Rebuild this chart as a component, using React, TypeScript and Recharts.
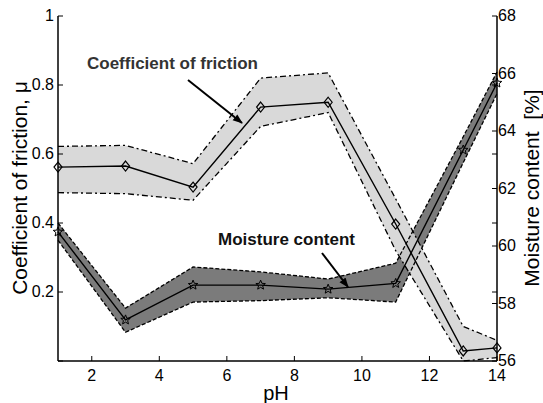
import { ComposedChart, Area, Line, XAxis, YAxis } from 'recharts'

// pH samples
const ph = [1, 3, 5, 7, 9, 11, 13, 14]

// coefficient of friction (left axis)
const friction = [0.562, 0.565, 0.504, 0.736, 0.75, 0.397, 0.029, 0.038]
const frictionUpper = [0.622, 0.625, 0.572, 0.82, 0.835, 0.47, 0.1, 0.06]
const frictionLower = [0.488, 0.485, 0.466, 0.68, 0.72, 0.32, 0.0, 0.01]

// moisture content in % (right axis)
const moisture = [60.49, 57.43, 58.64, 58.64, 58.5, 58.7, 63.34, 65.67]
const moistureUpper = [60.8, 57.84, 59.27, 59.1, 58.85, 59.4, 63.8, 66.05]
const moistureLower = [60.2, 57.0, 58.05, 58.1, 58.2, 58.05, 62.9, 65.3]

const xTicks = [2, 4, 6, 8, 10, 12, 14]
const leftTicks = [0, 0.2, 0.4, 0.6, 0.8, 1]
const rightTicks = [56, 58, 58.4, 60, 60.8, 62, 63.2, 64, 65.6, 66, 68]

const rows = ph.map((p, i) => ({
  ph: p,
  friction: friction[i],
  frictionUpper: frictionUpper[i],
  frictionLower: frictionLower[i],
  frictionBand: [frictionLower[i], frictionUpper[i]],
  moisture: moisture[i],
  moistureUpper: moistureUpper[i],
  moistureLower: moistureLower[i],
  moistureBand: [moistureLower[i], moistureUpper[i]],
}))

const FONT = '"Liberation Sans", Arial, Helvetica, sans-serif'

const Diamond = (props: any) => {
  const { cx, cy, index } = props
  if (cx == null || cy == null) return <g key={`d${index}`} />
  return (
    <path
      key={`d${index}`}
      d={`M${cx},${cy - 5}L${cx + 4},${cy}L${cx},${cy + 5}L${cx - 4},${cy}Z`}
      fill="none"
      stroke="#000"
      strokeWidth={1.2}
    />
  )
}

const Star = (props: any) => {
  const { cx, cy, index } = props
  if (cx == null || cy == null) return <g key={`s${index}`} />
  let d = ''
  for (let k = 0; k < 10; k++) {
    const r = k % 2 === 0 ? 5 : 2.2
    const a = -Math.PI / 2 + (k * Math.PI) / 5
    d += `${k === 0 ? 'M' : 'L'}${cx + r * Math.cos(a)},${cy + r * Math.sin(a)}`
  }
  return <path key={`s${index}`} d={d + 'Z'} fill="none" stroke="#000" strokeWidth={1} />
}

const LeftTick = ({ x, y, payload }: any) => (
  <g>
    <line x1={x} x2={x + 5} y1={y} y2={y} stroke="#000" />
    {payload.value !== 0 && (
      <text x={x - 4} y={y + 5} textAnchor="end" fontSize={16} fontFamily={FONT} fill="#000">
        {String(payload.value)}
      </text>
    )}
  </g>
)

const RightTick = ({ x, y, payload }: any) => (
  <g>
    <line x1={x} x2={x - 5} y1={y} y2={y} stroke="#000" />
    {Number.isInteger(payload.value) && (
      <text x={x + 1} y={y + 5} textAnchor="start" fontSize={16} fontFamily={FONT} fill="#000">
        {String(payload.value)}
      </text>
    )}
  </g>
)

const BottomTick = ({ x, y, payload }: any) => (
  <g>
    <line x1={x} x2={x} y1={y} y2={y - 5} stroke="#000" />
    <text x={x} y={y + 20} textAnchor="middle" fontSize={16} fontFamily={FONT} fill="#000">
      {String(payload.value)}
    </text>
  </g>
)

const TopTick = ({ x, y }: any) => <line x1={x} x2={x} y1={y} y2={y + 5} stroke="#000" />

export default function App() {
  return (
    <div style={{ position: 'absolute', left: 0, top: 0, width: 543, height: 403, background: '#fff', fontFamily: FONT }}>
      <ComposedChart width={543} height={403} data={rows} margin={{ top: 16, right: 0, bottom: 0, left: 0 }}>
        <XAxis
          dataKey="ph"
          type="number"
          domain={[1, 14]}
          ticks={xTicks}
          interval={0}
          height={42}
          tickSize={0}
          tickMargin={0}
          tickLine={false}
          axisLine={{ stroke: '#000', strokeWidth: 1.5 }}
          tick={<BottomTick />}
        />
        <XAxis
          xAxisId="top"
          orientation="top"
          dataKey="ph"
          type="number"
          domain={[1, 14]}
          allowDataOverflow
          ticks={xTicks}
          interval={0}
          height={0}
          tickSize={0}
          tickMargin={0}
          tickLine={false}
          axisLine={{ stroke: '#000', strokeWidth: 1.5 }}
          tick={<TopTick />}
        />
        <YAxis
          yAxisId="left"
          domain={[0, 1]}
          ticks={leftTicks}
          interval={0}
          width={58}
          tickSize={0}
          tickMargin={0}
          tickLine={false}
          axisLine={{ stroke: '#000', strokeWidth: 1.5 }}
          tick={<LeftTick />}
        />
        <YAxis
          yAxisId="right"
          orientation="right"
          domain={[56, 68]}
          ticks={rightTicks}
          interval={0}
          width={46}
          tickSize={0}
          tickMargin={0}
          tickLine={false}
          axisLine={{ stroke: '#000', strokeWidth: 1.5 }}
          tick={<RightTick />}
        />

        {/* moisture band */}
        <Area
          yAxisId="right"
          type="linear"
          dataKey="moistureBand"
          fill="#7b7b7b"
          fillOpacity={1}
          stroke="none"
          isAnimationActive={false}
        />
        {/* friction band */}
        <Area
          yAxisId="left"
          type="linear"
          dataKey="frictionBand"
          fill="#d2d2d2"
          fillOpacity={0.85}
          stroke="none"
          isAnimationActive={false}
        />

        <Line yAxisId="right" type="linear" dataKey="moistureUpper" stroke="#000" strokeWidth={1.3} strokeDasharray="4 2" dot={false} isAnimationActive={false} />
        <Line yAxisId="right" type="linear" dataKey="moistureLower" stroke="#000" strokeWidth={1.3} strokeDasharray="4 2" dot={false} isAnimationActive={false} />
        <Line yAxisId="left" type="linear" dataKey="frictionUpper" stroke="#000" strokeWidth={1.3} strokeDasharray="6 3 2 3" dot={false} isAnimationActive={false} />
        <Line yAxisId="left" type="linear" dataKey="frictionLower" stroke="#000" strokeWidth={1.3} strokeDasharray="6 3 2 3" dot={false} isAnimationActive={false} />

        <Line yAxisId="right" type="linear" dataKey="moisture" stroke="#000" strokeWidth={1.4} dot={Star} isAnimationActive={false} />
        <Line yAxisId="left" type="linear" dataKey="friction" stroke="#000" strokeWidth={1.4} dot={Diamond} isAnimationActive={false} />
      </ComposedChart>

      {/* labels and annotations */}
      <svg width={543} height={403} style={{ position: 'absolute', left: 0, top: 0, pointerEvents: 'none' }}>
        <defs>
          <marker id="ah" viewBox="0 0 10 10" refX="9" refY="5" markerWidth="5" markerHeight="5" orient="auto">
            <path d="M0,1.2L10,5L0,8.8Z" fill="#000" />
          </marker>
        </defs>
        <text x={87} y={69} fontSize={17} fontWeight="bold" fill="#333" fontFamily={FONT}>
          Coefficient of friction
        </text>
        <line x1={188} y1={80} x2={242} y2={123} stroke="#000" strokeWidth={2} markerEnd="url(#ah)" />
        <text x={218} y={245} fontSize={17} fontWeight="bold" fill="#111" fontFamily={FONT}>
          Moisture content
        </text>
        <line x1={322} y1={253} x2={348} y2={287} stroke="#000" strokeWidth={2} markerEnd="url(#ah)" />

        <text transform="translate(27,188) rotate(-90)" textAnchor="middle" fontSize={21} fontFamily={FONT} fill="#000">
          Coefficient of friction, μ
        </text>
        <text transform="translate(539,188) rotate(-90)" textAnchor="middle" fontSize={21} fontFamily={FONT} fill="#000" style={{ whiteSpace: 'pre' }}>
          {'Moisture content  [%]'}
        </text>
        <text x={276} y={400} textAnchor="middle" fontSize={20} fontFamily={FONT} fill="#000">
          pH
        </text>
      </svg>
    </div>
  )
}
